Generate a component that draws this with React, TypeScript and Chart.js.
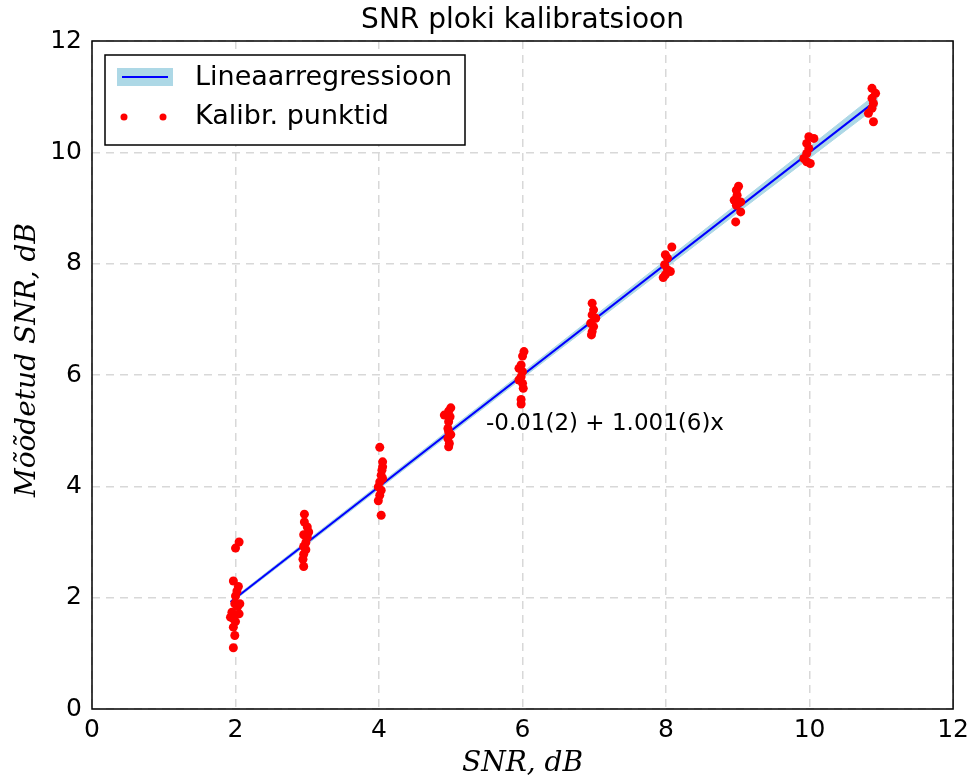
import React, { useEffect, useRef } from "react";
import { Chart, registerables } from "chart.js";

Chart.register(...registerables);

const TITLE = "SNR ploki kalibratsioon";
const X_LABEL = "SNR, dB";
const Y_LABEL = "Mõõdetud SNR, dB";
const FIT_LABEL = "-0.01(2) + 1.001(6)x";
const LEGEND_LINE = "Lineaarregressioon";
const LEGEND_POINTS = "Kalibr. punktid";
const TICKS = [0, 2, 4, 6, 8, 10, 12];

const FIT_INTERCEPT = -0.01;
const FIT_SLOPE = 1.001;
const LINE_X = [1.93, 10.87];
const BAND_X = [1.93, 3, 4, 5, 6, 7, 8, 9, 10, 10.95];
const BAND_HALF = [0.025, 0.035, 0.04, 0.045, 0.05, 0.06, 0.07, 0.08, 0.1, 0.12];

const PTS_X = [
  2.05, 2.0, 1.97, 2.04, 2.02, 2.0, 2.06, 1.99, 2.03, 1.95, 2.05, 1.93, 1.97, 2.0, 1.97, 1.99, 1.97,
  2.96, 2.96, 3.0, 3.02, 2.95, 3.0, 2.98, 2.95, 2.98, 2.95, 2.94, 2.95,
  4.01, 4.05, 4.05, 4.04, 4.03, 4.05, 4.01, 3.99, 4.03, 4.01, 3.99, 4.03,
  5.0, 4.97, 4.91, 4.99, 4.97, 4.96, 4.97, 5.0, 4.96, 4.98, 4.97,
  6.02, 6.0, 5.98, 5.95, 6.0, 5.98, 5.95, 6.0, 6.01, 5.98, 5.98,
  6.97, 6.99, 6.97, 7.02, 6.95, 6.99, 6.97, 6.96,
  8.08, 7.99, 8.02, 7.98, 8.02, 8.06, 7.99, 7.96,
  9.01, 8.98, 8.99, 8.95, 9.04, 8.98, 9.04, 8.97,
  9.99, 10.06, 9.96, 9.99, 9.96, 9.92, 9.96, 10.01,
  10.87, 10.92, 10.87, 10.89, 10.87, 10.82, 10.89
];
const PTS_Y = [
  3.0, 2.89, 2.3, 2.2, 2.12, 2.03, 1.89, 1.89, 1.84, 1.74, 1.71, 1.65, 1.62, 1.57, 1.47, 1.32, 1.1,
  3.5, 3.36, 3.27, 3.18, 3.13, 3.08, 2.99, 2.92, 2.86, 2.78, 2.69, 2.56,
  4.7, 4.44, 4.35, 4.29, 4.2, 4.14, 4.08, 3.99, 3.93, 3.84, 3.74, 3.48,
  5.41, 5.35, 5.28, 5.25, 5.16, 5.04, 4.98, 4.93, 4.86, 4.77, 4.71,
  6.42, 6.34, 6.18, 6.12, 6.06, 5.97, 5.91, 5.85, 5.76, 5.56, 5.48,
  7.29, 7.17, 7.08, 7.02, 6.93, 6.87, 6.78, 6.72,
  8.3, 8.16, 8.1, 7.98, 7.89, 7.86, 7.8, 7.75,
  9.39, 9.32, 9.23, 9.14, 9.11, 9.05, 8.93, 8.75,
  10.28, 10.25, 10.16, 10.07, 9.98, 9.89, 9.83, 9.8,
  11.15, 11.06, 10.97, 10.88, 10.79, 10.7, 10.55
];

const fit = (x: number) => FIT_INTERCEPT + FIT_SLOPE * x;

const overlay = {
  id: "overlay",
  afterDraw(chart: any) {
    const { ctx, chartArea: a, scales } = chart;
    const xs = scales.x;
    const ys = scales.y;
    ctx.save();
    ctx.strokeStyle = "#000";
    ctx.lineWidth = 1.5;
    ctx.strokeRect(a.left, a.top, a.right - a.left, a.bottom - a.top);
    ctx.fillStyle = "#000";
    ctx.font = '28px "DejaVu Sans"';
    ctx.textAlign = "center";
    ctx.textBaseline = "bottom";
    ctx.fillText(TITLE, (a.left + a.right) / 2, a.top - 6);
    ctx.font = 'italic 28px "DejaVu Serif"';
    ctx.textBaseline = "middle";
    ctx.fillText(X_LABEL, (a.left + a.right) / 2, 764);
    ctx.save();
    ctx.translate(28, (a.top + a.bottom) / 2 - 15);
    ctx.rotate(-Math.PI / 2);
    ctx.fillText(Y_LABEL, 0, 0);
    ctx.restore();
    ctx.font = '23px "DejaVu Sans"';
    ctx.textAlign = "left";
    ctx.fillText(FIT_LABEL, xs.getPixelForValue(5.49), ys.getPixelForValue(5.12));
    const lx = 105, ly = 55, lw = 360, lh = 90;
    ctx.fillStyle = "#fff";
    ctx.fillRect(lx, ly, lw, lh);
    ctx.strokeStyle = "#000";
    ctx.lineWidth = 1.5;
    ctx.strokeRect(lx, ly, lw, lh);
    ctx.fillStyle = "#add8e6";
    ctx.fillRect(117, 68, 56, 18);
    ctx.strokeStyle = "#0000ff";
    ctx.lineWidth = 2;
    ctx.beginPath();
    ctx.moveTo(122, 77);
    ctx.lineTo(168, 77);
    ctx.stroke();
    ctx.fillStyle = "#ff0000";
    for (const cx of [124, 163]) {
      ctx.beginPath();
      ctx.arc(cx, 117, 3.5, 0, Math.PI * 2);
      ctx.fill();
    }
    ctx.fillStyle = "#000";
    ctx.font = '27px "DejaVu Sans"';
    ctx.textBaseline = "middle";
    ctx.fillText(LEGEND_LINE, 195, 78);
    ctx.fillText(LEGEND_POINTS, 195, 117);
    ctx.restore();
  },
};

export default function App() {
  const ref = useRef<HTMLCanvasElement | null>(null);
  useEffect(() => {
    document.body.style.margin = "0";
    const canvas = ref.current!;
    const upper = BAND_X.map((x, i) => ({ x, y: fit(x) + BAND_HALF[i] }));
    const lower = BAND_X.map((x, i) => ({ x, y: fit(x) - BAND_HALF[i] }));
    const line = LINE_X.map((x) => ({ x, y: fit(x) }));
    const pts = PTS_X.map((x, i) => ({ x, y: PTS_Y[i] }));
    const chart = new Chart(canvas, {
      type: "scatter",
      data: {
        datasets: [
          { data: pts, showLine: false, pointRadius: 4.5, pointBackgroundColor: "#ff0000", pointBorderWidth: 0, backgroundColor: "#ff0000", borderColor: "#ff0000", order: 0 } as any,
          { data: line, showLine: true, borderWidth: 2, pointRadius: 0, borderColor: "#0000ff", fill: false, order: 1 } as any,
          { data: upper, showLine: true, borderWidth: 1, pointRadius: 0, borderColor: "#add8e6", backgroundColor: "#add8e6", fill: 3, order: 2 } as any,
          { data: lower, showLine: true, borderWidth: 1, pointRadius: 0, borderColor: "#add8e6", backgroundColor: "#add8e6", fill: false, order: 3 } as any,
        ],
      },
      options: {
        responsive: false,
        animation: false,
        layout: { padding: { top: 41, right: 20, left: 0, bottom: 0 } },
        plugins: { legend: { display: false }, tooltip: { enabled: false }, title: { display: false } },
        scales: {
          x: {
            type: "linear",
            min: 0,
            max: 12,
            afterFit: (s: any) => { s.height = 72; },
            afterBuildTicks: (s: any) => { s.ticks = TICKS.map((v) => ({ value: v })); },
            grid: { color: "#d8d8d8", lineWidth: 1.5, drawTicks: false },
            border: { display: false, dash: [8, 6] },
            ticks: { color: "#000", font: { family: "DejaVu Sans", size: 25 }, padding: 6 },
          },
          y: {
            type: "linear",
            min: 0,
            max: 12,
            afterFit: (s: any) => { s.width = 92; },
            afterBuildTicks: (s: any) => { s.ticks = TICKS.map((v) => ({ value: v })); },
            grid: { color: "#d8d8d8", lineWidth: 1.5, drawTicks: false },
            border: { display: false, dash: [8, 6] },
            ticks: { color: "#000", font: { family: "DejaVu Sans", size: 25 }, padding: 10 },
          },
        },
      },
      plugins: [overlay],
    });
    return () => chart.destroy();
  }, []);
  return <canvas ref={ref} width={975} height={781} style={{ display: "block" }} />;
}
